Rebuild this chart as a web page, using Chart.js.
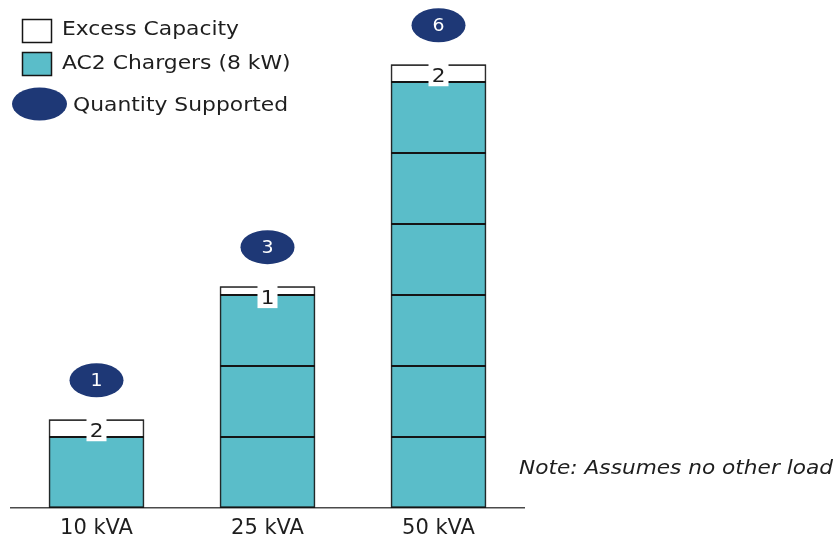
<!DOCTYPE html>
<html>
<head>
<meta charset="utf-8">
<script src="https://cdn.jsdelivr.net/npm/chart.js@4/dist/chart.umd.min.js"></script>
<style>
  html, body { margin: 0; padding: 0; background: #ffffff; }
  #wrap { width: 840px; height: 538px; }
</style>
</head>
<body>
<div id="wrap"><canvas id="c" width="840" height="538"></canvas></div>
<script>
// Transformer sizes and how many 8 kW AC2 chargers each one supports
const kvaLabels = ['10 kVA', '25 kVA', '50 kVA'];
const chargerCounts = [1, 3, 6];
const chargerKW = 8;
const excessKW = [2, 1, 2];

const TEAL = '#5abdc9';
const NAVY = '#1e3876';
const EDGE = '#151515';
const TEXT = '#1e1e1e';
const FONT = '"DejaVu Sans", Verdana, sans-serif';

// one stacked dataset per charger slot, excess capacity on top
const maxCount = Math.max(...chargerCounts);
const datasets = [];
for (let k = 0; k < maxCount; k++) {
  datasets.push({
    label: 'AC2 Chargers (8 kW)',
    data: chargerCounts.map(c => (c > k ? chargerKW : null)),
    backgroundColor: TEAL,
    borderColor: EDGE,
    borderWidth: 1.1,
    borderSkipped: false,
    stack: 's'
  });
}
datasets.push({
  label: 'Excess Capacity',
  data: excessKW,
  backgroundColor: '#ffffff',
  borderColor: EDGE,
  borderWidth: 1.1,
  borderSkipped: false,
  stack: 's'
});

// text with an optional horizontal stretch
function drawText(ctx, str, x, y, size, opts) {
  opts = opts || {};
  const sx = opts.stretch || 1;
  ctx.save();
  ctx.font = (opts.italic ? 'italic ' : '') + size + 'px ' + FONT;
  ctx.fillStyle = opts.color || TEXT;
  ctx.textBaseline = opts.baseline || 'middle';
  ctx.textAlign = opts.align || 'left';
  ctx.translate(x, y);
  ctx.scale(sx, 1);
  ctx.fillText(str, 0, 0);
  ctx.restore();
}

function ellipse(ctx, cx, cy, rx, ry) {
  ctx.save();
  ctx.beginPath();
  ctx.ellipse(cx, cy, rx, ry, 0, 0, Math.PI * 2);
  ctx.fillStyle = NAVY;
  ctx.fill();
  ctx.restore();
}

const annotations = {
  id: 'annotations',
  afterDatasetsDraw(chart) {
    const ctx = chart.ctx;
    const xs = chart.scales.x;
    const ys = chart.scales.y;
    const baseBars = chart.getDatasetMeta(0).data;
    kvaLabels.forEach((lab, i) => {
      const cx = xs.getPixelForValue(i);
      const total = chargerCounts[i] * chargerKW + excessKW[i];
      const topY = ys.getPixelForValue(total);
      const botY = ys.getPixelForValue(0);
      // thicken the outer outline of the whole stack
      const w = baseBars[i].width;
      ctx.save();
      ctx.strokeStyle = EDGE;
      ctx.lineWidth = 1;
      ctx.strokeRect(cx - w / 2 + 1.1, topY + 1.1, w - 2.2, botY - topY - 2.2);
      ctx.restore();
      // excess value tag sitting on the top edge
      ctx.save();
      ctx.fillStyle = '#ffffff';
      ctx.fillRect(cx - 10, topY - 1, 20, 23);
      ctx.restore();
      drawText(ctx, String(excessKW[i]), cx, topY + 3, 20, { align: 'center', baseline: 'top', stretch: 1.08 });
      // quantity bubble above the stack
      const ey = topY - 39;
      ellipse(ctx, cx, ey, 27, 17);
      drawText(ctx, String(chargerCounts[i]), cx, ey + 1, 18, { align: 'center', color: '#ffffff', stretch: 1.05 });
    });
  },
  afterDraw(chart) {
    const ctx = chart.ctx;
    // legend
    ctx.save();
    ctx.lineWidth = 1.5;
    ctx.strokeStyle = EDGE;
    ctx.fillStyle = '#ffffff';
    ctx.fillRect(22, 19, 30, 24);
    ctx.strokeRect(22.5, 19.5, 29, 23);
    ctx.fillStyle = TEAL;
    ctx.fillRect(22, 52, 30, 24);
    ctx.strokeRect(22.5, 52.5, 29, 23);
    ctx.restore();
    drawText(ctx, datasets[datasets.length - 1].label, 62, 30, 19, { stretch: 1.15 });
    drawText(ctx, datasets[0].label, 62, 64, 19, { stretch: 1.15 });
    ellipse(ctx, 39.5, 104, 27.5, 16.5);
    drawText(ctx, 'Quantity Supported', 73, 106, 19, { stretch: 1.15 });
    // footnote
    drawText(ctx, 'Note: Assumes no other load', 833, 469, 19, { italic: true, align: 'right', stretch: 1.14 });
  }
};

new Chart(document.getElementById('c'), {
  type: 'bar',
  data: { labels: kvaLabels, datasets },
  options: {
    responsive: false,
    devicePixelRatio: 1,
    animation: false,
    layout: { padding: { left: 11, right: 316, top: 11, bottom: 0 } },
    plugins: { legend: { display: false }, tooltip: { enabled: false } },
    datasets: { bar: { categoryPercentage: 1, barPercentage: 0.56 } },
    scales: {
      x: {
        stacked: true,
        grid: { display: false, drawTicks: false },
        border: { display: true, color: '#4a4a4a', width: 1.5 },
        ticks: { color: TEXT, font: { family: FONT, size: 21 }, padding: 8 },
        afterFit(s) { s.height = 30; }
      },
      y: {
        stacked: true,
        display: false,
        min: 0,
        max: 56
      }
    }
  },
  plugins: [annotations]
});
</script>
</body>
</html>
